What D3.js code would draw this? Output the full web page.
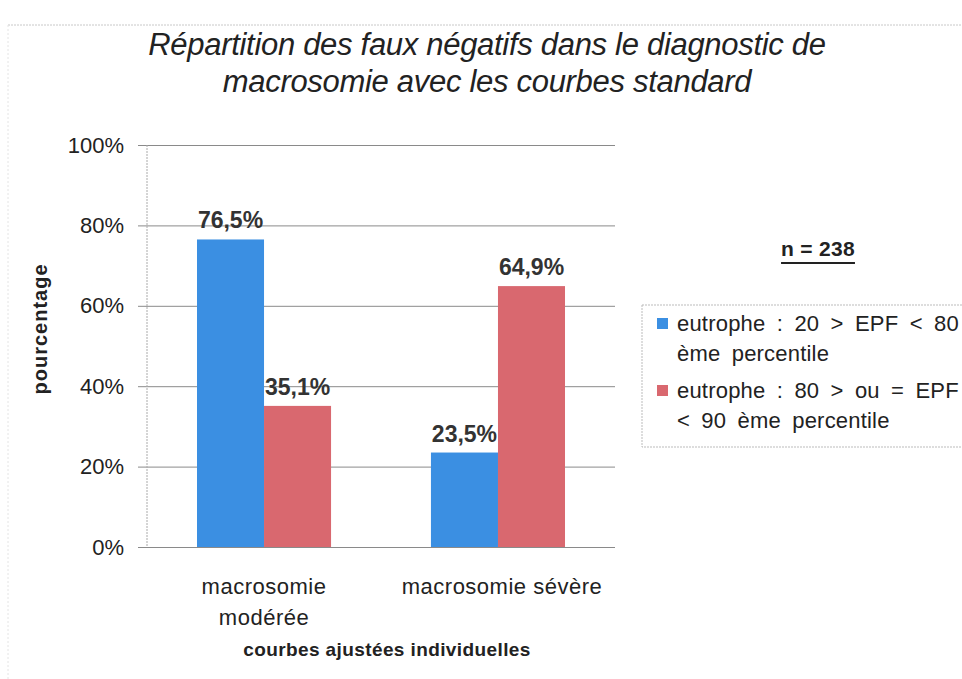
<!DOCTYPE html>
<html><head><meta charset="utf-8">
<script src="https://cdn.jsdelivr.net/npm/d3@7"></script>
<style>
body{margin:0;background:#fff;}
svg{display:block;font-family:"Liberation Sans",Arial,Helvetica,sans-serif;}
</style></head>
<body><svg id="c" width="962" height="679"></svg>
<script>
const categories = [["macrosomie","modérée"],["macrosomie sévère"]];
const categoryKeys = ["macrosomie modérée","macrosomie sévère"];
const seriesNames = [["eutrophe : 20 > EPF < 80","ème percentile"],["eutrophe : 80 > ou = EPF","< 90 ème percentile"]];
const seriesBlue = [76.5, 23.5];
const seriesRed = [35.1, 64.9];
const valueLabels = [["76,5%","23,5%"],["35,1%","64,9%"]];
const yTicks = [0,20,40,60,80,100];
const colors = ["#3b8fe2","#d9686f"];
const titleLines = ["Répartition des faux négatifs dans le diagnostic de","macrosomie avec les courbes standard"];

const svg = d3.select("#c");
const plot = {left:147, right:615, top:145, bottom:547};

// faint page border
svg.append("line").attr("x1",8).attr("x2",962).attr("y1",25).attr("y2",25)
  .attr("stroke","#c8c8c8").attr("stroke-width",1).attr("stroke-dasharray","2,1");
svg.append("line").attr("x1",8).attr("x2",8).attr("y1",25).attr("y2",679)
  .attr("stroke","#e4e4e4").attr("stroke-width",1).attr("stroke-dasharray","2,2");

// title
const t = svg.append("text").attr("text-anchor","middle").attr("font-style","italic")
  .attr("font-size",31).attr("fill","#222").attr("letter-spacing","-0.3");
titleLines.forEach((l,i)=>t.append("tspan").attr("x",487).attr("y",55+i*37).text(l));

const y = d3.scaleLinear().domain([0,100]).range([plot.bottom, plot.top]);
const x0 = d3.scaleBand().domain(categoryKeys).range([plot.left, plot.right]).paddingInner(0.427).paddingOuter(0.2137);
const x1 = d3.scaleBand().domain([0,1]).range([0, x0.bandwidth()]);

// gridlines + ticks
const ga = svg.append("g").attr("transform",`translate(${plot.right},0)`);
ga.call(d3.axisLeft(y).tickValues(yTicks).tickSize(plot.right-plot.left+9).tickFormat(d=>d+"%").tickPadding(14));
ga.select(".domain").remove();
ga.selectAll(".tick line").attr("stroke","#8a8a8a").attr("stroke-width",1);
ga.selectAll(".tick text").attr("font-size",22).attr("fill","#222")
  .attr("font-family","Liberation Sans, Arial, sans-serif");

// vertical axis line (dotted)
svg.append("line").attr("x1",plot.left).attr("x2",plot.left).attr("y1",plot.top).attr("y2",plot.bottom)
  .attr("stroke","#aaa").attr("stroke-dasharray","2,1");

// bars
const series = [seriesBlue, seriesRed];
series.forEach((vals,si)=>{
  svg.append("g").selectAll("rect").data(vals).join("rect")
    .attr("x",(d,i)=>x0(categoryKeys[i])+x1(si))
    .attr("width",x1.bandwidth())
    .attr("y",d=>y(d)).attr("height",d=>y(0)-y(d))
    .attr("fill",colors[si]);
  svg.append("g").selectAll("text").data(vals).join("text")
    .attr("x",(d,i)=>x0(categoryKeys[i])+x1(si)+x1.bandwidth()/2)
    .attr("y",d=>y(d)-11)
    .attr("text-anchor","middle").attr("font-size",23).attr("font-weight","bold")
    .attr("fill","#333")
    .text((d,i)=>valueLabels[si][i]);
});

// category labels
categoryKeys.forEach((k,i)=>{
  const tx = svg.append("text").attr("text-anchor","middle").attr("font-size",22).attr("fill","#222").attr("letter-spacing","0.5");
  categories[i].forEach((l,j)=>tx.append("tspan").attr("x",x0(k)+x0.bandwidth()/2+(i?4:0)).attr("y",594+j*31).text(l));
});

// axis titles
svg.append("text").attr("x",(plot.left+plot.right)/2+6).attr("y",656).attr("text-anchor","middle")
  .attr("font-size",19).attr("font-weight","bold").attr("fill","#222").attr("letter-spacing","0.4").text("courbes ajustées individuelles");
svg.append("text").attr("transform",`translate(47,${329}) rotate(-90)`)
  .attr("text-anchor","middle").attr("font-size",20).attr("font-weight","bold").attr("fill","#222").attr("letter-spacing","1").text("pourcentage");

// n = 238
const n = svg.append("text").attr("x",818).attr("y",256).attr("text-anchor","middle")
  .attr("font-size",21).attr("font-weight","bold").attr("fill","#222").attr("letter-spacing","0.3").text("n = 238");
const nb = n.node().getBBox();
svg.append("line").attr("x1",nb.x).attr("x2",nb.x+nb.width).attr("y1",263).attr("y2",263)
  .attr("stroke","#222").attr("stroke-width",2);

// legend
svg.append("rect").attr("x",642).attr("y",305).attr("width",330).attr("height",142)
  .attr("fill","none").attr("stroke","#bbb").attr("stroke-dasharray","2,1");
seriesNames.forEach((lines,i)=>{
  const yy = 331 + i*67;
  svg.append("rect").attr("x",657).attr("y",yy-13).attr("width",11).attr("height",11).attr("fill",colors[i]);
  const tx = svg.append("text").attr("font-size",22).attr("fill","#222").attr("letter-spacing","0.2").attr("word-spacing","5");
  lines.forEach((l,j)=>tx.append("tspan").attr("x",677).attr("y",yy+j*30).text(l));
});
</script></body></html>
